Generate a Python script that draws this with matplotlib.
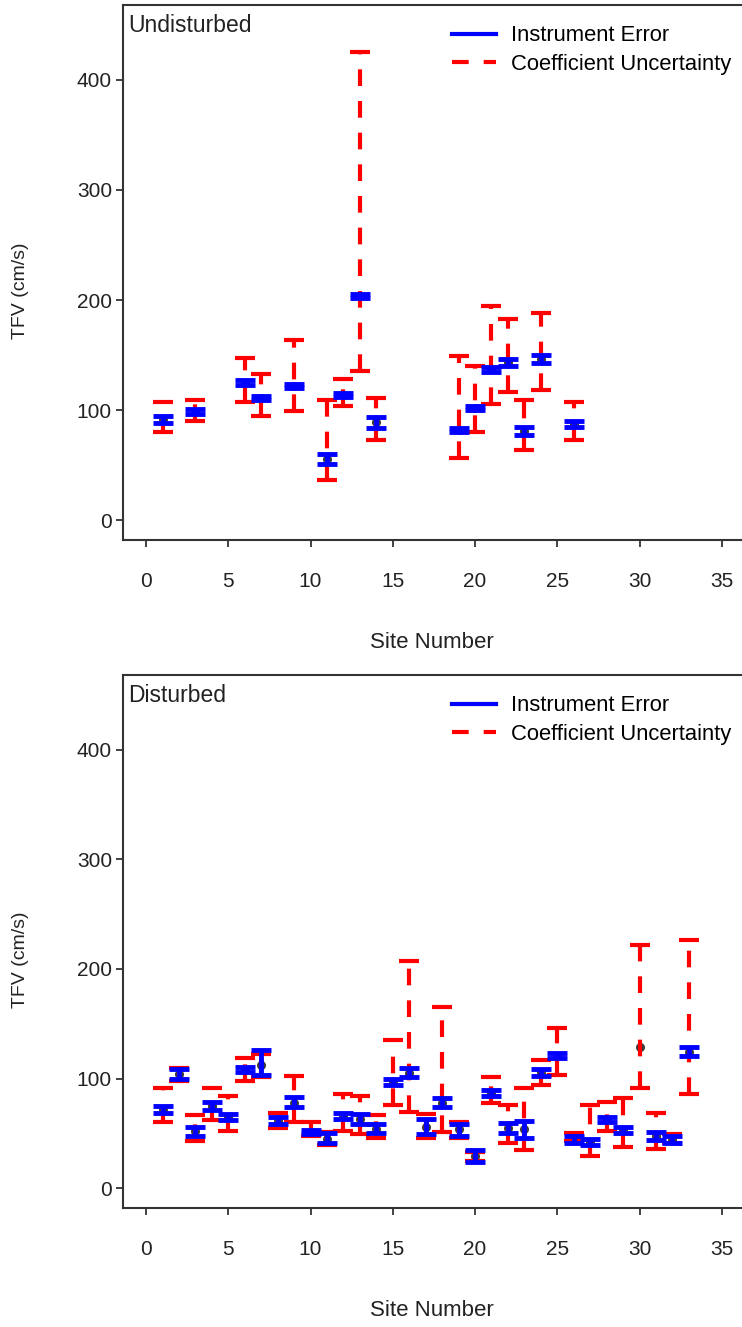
import numpy as np
import matplotlib
matplotlib.use('Agg')
import matplotlib.pyplot as plt
from matplotlib.lines import Line2D

plt.rcParams['font.family'] = ['Liberation Sans', 'DejaVu Sans']

# Undisturbed sites: mean TFV, instrument error range, coefficient uncertainty range
und_site    = [1, 3, 6, 7, 9, 11, 12, 13, 14, 19, 20, 21, 22, 23, 24, 26]
und_mean    = [92, 98, 125, 111, 122, 55.5, 114, 204, 89, 82, 102, 137, 143, 81, 146, 87.5]
und_inst_lo = [88.5, 96, 123, 109, 120, 51, 112, 202, 84, 80, 100, 134.5, 140.5, 77, 142.5, 85]
und_inst_hi = [94.5, 101, 127, 113, 124, 60, 115.5, 205.5, 94, 84, 104, 139, 146, 85, 150, 90]
und_coef_lo = [80, 90.5, 107, 94.5, 99, 36.5, 103.5, 135.5, 73, 56.5, 80, 105.5, 116.5, 63.5, 118.5, 72.5]
und_coef_hi = [107.5, 109.5, 147.5, 132.5, 164, 109.5, 128, 425.5, 111, 149, 140, 194.5, 182.5, 109.5, 188, 107.5]

# Disturbed sites
dis_site    = list(range(1, 34))
dis_mean    = [72, 104.5, 52, 75, 65, 108, 112, 61.5, 78, 51, 45, 66, 63, 54, 97, 105, 56,
               78, 54, 29, 87, 55, 54, 105, 121, 45, 42, 63, 53, 128.5, 48, 44, 124]
dis_inst_lo = [69, 100, 48, 71, 62, 106, 103.5, 59, 74, 49, 41, 63, 59, 50, 94, 101, 49,
               74, 48, 24, 84, 50, 46, 102.5, 119, 41, 39, 60, 50, np.nan, 44, 41, 121]
dis_inst_hi = [75, 109, 56, 78.5, 68, 111, 126, 65, 83, 53.5, 50, 68.5, 68, 59, 100, 110, 63,
               82, 59, 34.5, 90, 59.5, 61, 109, 123, 48, 44.5, 65, 55.5, np.nan, 51, 47.5, 128.5]
dis_coef_lo = [60, 98, 43.5, 62, 52.5, 98, 101, 54.5, 60, 48, 39, 52.5, 49, 46, 75.5, 69.5, 45.5,
               51, 45.5, 25, 77.5, 41.5, 34.5, 94.5, 103.5, 43, 29, 52.5, 38, 91.5, 36, 41, 86]
dis_coef_hi = [91, 110, 66.5, 91.5, 84.5, 119, 122.5, 69, 102, 60, 51, 86, 84.5, 66.5, 135, 207, 68,
               165.5, 60.5, 33, 101, 75.5, 91.5, 117, 146, 50, 75.5, 78.5, 82.5, 222, 69, 49, 226]

panels = [
    ('Undisturbed', und_site, und_mean, und_inst_lo, und_inst_hi, und_coef_lo, und_coef_hi),
    ('Disturbed', dis_site, dis_mean, dis_inst_lo, dis_inst_hi, dis_coef_lo, dis_coef_hi),
]

ax_rects = [[0.1658, 0.5931, 0.838, 0.4031],
            [0.1658, 0.0897, 0.838, 0.4016]]

fig = plt.figure(figsize=(7.42, 13.27), dpi=100)

for rect, (name, site, mean, ilo, ihi, clo, chi) in zip(ax_rects, panels):
    ax = fig.add_axes(rect)
    site = np.array(site, float)
    mean = np.array(mean, float)
    ilo, ihi = np.array(ilo, float), np.array(ihi, float)
    clo, chi = np.array(clo, float), np.array(chi, float)

    # points at the mean (mostly hidden under the blue bars)
    ax.plot(site, mean, 'o', color='#3a3a3a', ms=5.5, zorder=1)

    # coefficient uncertainty: red dashed
    eb = ax.errorbar(site, mean, yerr=[mean - clo, chi - mean], fmt='none',
                     ecolor='red', elinewidth=3, capsize=7, capthick=3, zorder=2)
    eb[2][0].set_linestyle((0, (4.0, 3.6)))

    # instrument error: blue solid
    ok = np.isfinite(ilo)
    ax.errorbar(site[ok], mean[ok], yerr=[mean[ok] - ilo[ok], ihi[ok] - mean[ok]], fmt='none',
                ecolor='blue', elinewidth=3.5, capsize=7.5, capthick=3.5, zorder=3)

    ax.set_xlim(-1.4, 36.4)
    ax.set_ylim(-18, 468)
    ax.set_xticks(range(0, 36, 5))
    ax.set_yticks(range(0, 401, 100))
    ax.tick_params(axis='both', length=5, width=1.2, labelsize=15, colors='#222222')
    ax.tick_params(axis='x', pad=18)
    ax.tick_params(axis='y', pad=3)
    for sp in ax.spines.values():
        sp.set_linewidth(1.5)
        sp.set_color('#333333')

    ax.set_xlabel('Site Number', fontsize=16, color='#222222')
    ax.xaxis.set_label_coords(0.497, -0.172)
    ax.set_ylabel('TFV (cm/s)', fontsize=14, color='#222222')
    ax.yaxis.set_label_coords(-0.152, 0.466)

    ax.text(0.008, 0.961, name, transform=ax.transAxes, fontsize=16.5,
            va='center', ha='left', color='#222222')

    handles = [Line2D([], [], color='blue', lw=3),
               Line2D([], [], color='red', lw=3, ls=(0, (4.0, 3.6)))]
    ax.legend(handles, ['Instrument Error', 'Coefficient Uncertainty'],
              loc='upper left', bbox_to_anchor=(0.529, 0.962), frameon=False,
              fontsize=15.8, borderpad=0, borderaxespad=0, handlelength=2.0,
              handletextpad=0.7, labelspacing=0.35)

fig.savefig('out.png', dpi=100, facecolor='w')
